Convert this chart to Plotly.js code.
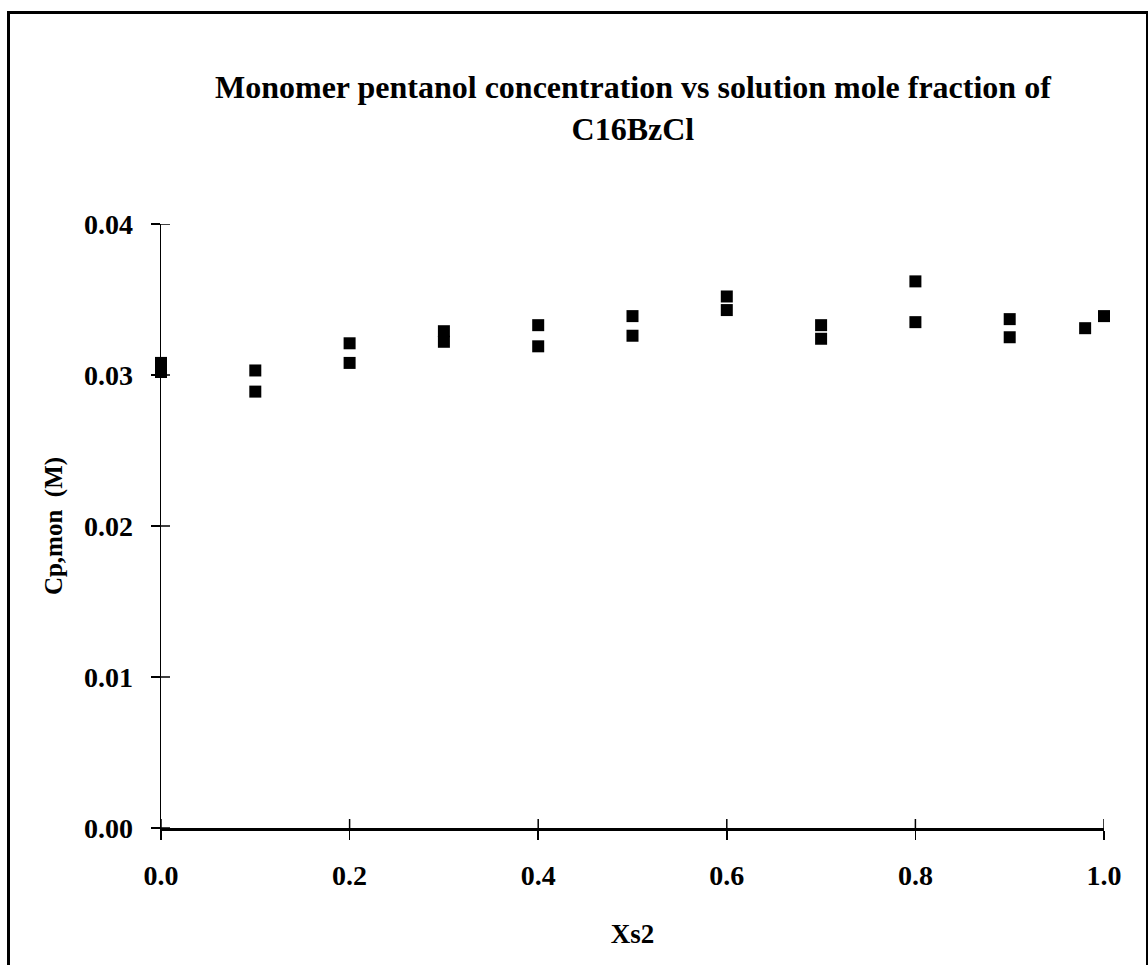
<!DOCTYPE html>
<html>
<head>
<meta charset="utf-8">
<script src="https://cdn.plot.ly/plotly-3.0.1.min.js"></script>
<style>
  html, body { margin:0; padding:0; background:#fff; }
  #wrap { position:relative; width:1148px; height:965px; overflow:hidden; }
  #chart { width:1148px; height:965px; }
  #frame { position:absolute; left:7px; top:11px; width:1136px; height:1000px;
           border-left:3px solid #000; border-top:3px solid #000; border-right:3px solid #000;
           pointer-events:none; }
</style>
</head>
<body>
<div id="wrap">
  <div id="chart"></div>
  <div id="frame"></div>
</div>
<script>
// Data
const xs2 = [0, 0, 0.1, 0.1, 0.2, 0.2, 0.3, 0.3, 0.4, 0.4, 0.5, 0.5,
             0.6, 0.6, 0.7, 0.7, 0.8, 0.8, 0.9, 0.9, 0.98, 1.0];
const cpMon = [0.0308, 0.0302, 0.0303, 0.0289, 0.0321, 0.0308, 0.0329, 0.0322,
               0.0333, 0.0319, 0.0339, 0.0326, 0.0352, 0.0343, 0.0333, 0.0324,
               0.0362, 0.0335, 0.0337, 0.0325, 0.0331, 0.0339];
const xTickVals = [0, 0.2, 0.4, 0.6, 0.8, 1.0];
const xTickText = ['0.0', '0.2', '0.4', '0.6', '0.8', '1.0'];
const yTickVals = [0, 0.01, 0.02, 0.03, 0.04];
const yTickText = ['0.00', '0.01', '0.02', '0.03', '0.04'];
const titleText = 'Monomer pentanol concentration vs solution mole fraction of<br>C16BzCl';

const serif = 'Liberation Serif, Times New Roman, serif';
const tickFont = {family: serif, size: 28, color: '#000', weight: 'bold'};

const W = 1148, H = 965;
const M = {l: 161, r: 44, t: 224, b: 137};
const plotW = W - M.l - M.r, plotH = H - M.t - M.b;
const inTick = 9; // px length of the inner half of each crossing tick

const traces = [{
  x: xs2, y: cpMon, type: 'scatter', mode: 'markers',
  marker: {symbol: 'square', size: 12, color: '#000'},
  cliponaxis: false, showlegend: false, hoverinfo: 'x+y'
}];

// inner halves of the crossing tick marks
const tickShapes = [];
yTickVals.forEach(v => tickShapes.push({
  type: 'line', xref: 'paper', yref: 'y', layer: 'above',
  x0: 0, x1: inTick / plotW, y0: v, y1: v, line: {color: '#000', width: 1.5}
}));
xTickVals.forEach(v => tickShapes.push({
  type: 'line', xref: 'x', yref: 'paper', layer: 'above',
  y0: 0, y1: inTick / plotH, x0: v, x1: v, line: {color: '#000', width: 1.5}
}));

const layout = {
  width: W, height: H,
  paper_bgcolor: '#fff', plot_bgcolor: '#fff',
  margin: M,
  showlegend: false,
  shapes: tickShapes,
  annotations: [{
    text: '<b>' + titleText + '</b>', showarrow: false,
    xref: 'paper', yref: 'paper', x: 0.5, y: 1.192,
    xanchor: 'center', yanchor: 'middle',
    font: {family: serif, size: 32, color: '#000'}
  }],
  xaxis: {
    range: [0, 1], tickvals: xTickVals, ticktext: xTickText,
    ticks: 'outside', ticklen: 9, tickwidth: 1.5, tickcolor: '#000',
    ticklabelstandoff: 12,
    showline: true, linecolor: '#000', linewidth: 2.5,
    showgrid: false, zeroline: false, tickfont: tickFont,
    title: {text: '<b>Xs2</b>', font: {family: serif, size: 27, color: '#000'}, standoff: 34}
  },
  yaxis: {
    range: [0, 0.04], tickvals: yTickVals, ticktext: yTickText,
    ticks: 'outside', ticklen: 9, tickwidth: 1.5, tickcolor: '#000',
    ticklabelstandoff: 12,
    showline: true, linecolor: '#000', linewidth: 1.5,
    showgrid: false, zeroline: false, tickfont: tickFont,
    title: {text: '<b>Cp,mon  (M)</b>', font: {family: serif, size: 25, color: '#000'}, standoff: 14}
  }
};

Plotly.newPlot('chart', traces, layout, {staticPlot: true});
</script>
</body>
</html>
